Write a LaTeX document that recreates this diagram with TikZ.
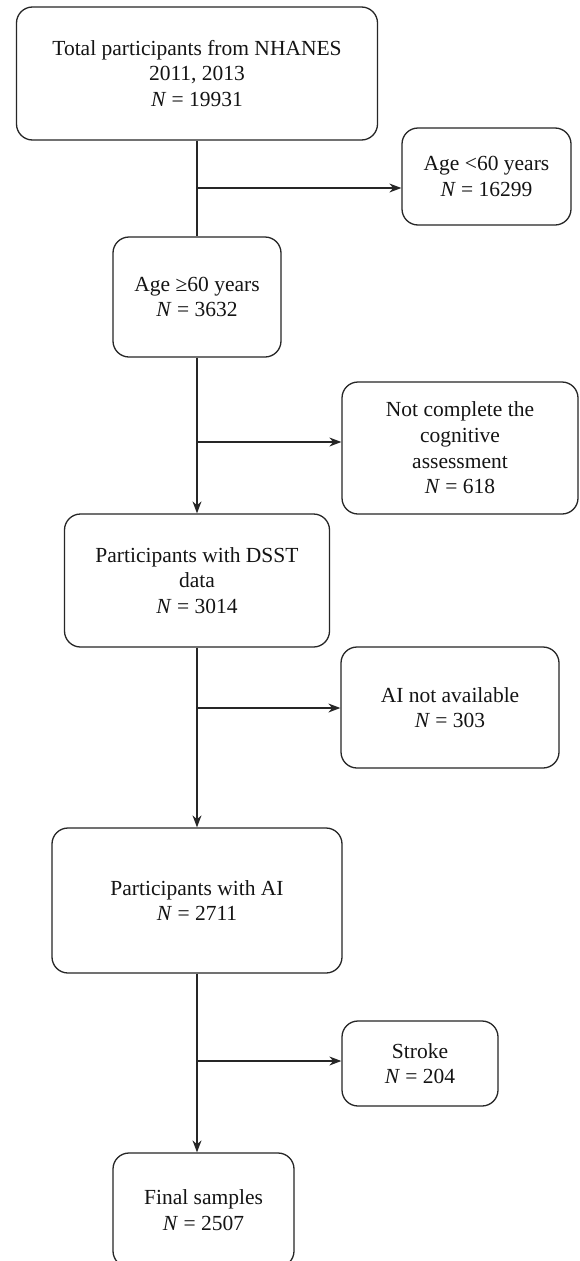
\documentclass[tikz,border=0pt]{standalone}
\usepackage{fontspec}
\setmainfont{Liberation Serif}
\usetikzlibrary{arrows.meta}
\begin{document}
\begin{tikzpicture}[x=1pt,y=-1pt,
  box/.style={draw=black!85, line width=1.3pt, rounded corners=16pt, align=center,
    inner sep=0pt, font=\fontsize{21.5}{25.7}\selectfont, text=black!92},
  conn/.style={draw=black!85, line width=1.3pt},
  arr/.style={conn, -{Stealth[length=12pt,width=9pt]}}]
\useasboundingbox (0,0) rectangle (580,1261);
\fill[white] (0,0) rectangle (580,1261);

\node[box, minimum width=361pt, minimum height=133pt] (b1) at (197,73.5)
  {Total participants from NHANES\\2011, 2013\\\textit{N} = 19931};
\node[box, minimum width=169pt, minimum height=97pt] (lt60) at (486.5,176.5)
  {Age <60 years\\\textit{N} = 16299};
\node[box, minimum width=168pt, minimum height=120pt] (b2) at (197,297)
  {Age ≥60 years\\\textit{N} = 3632};
\node[box, minimum width=236pt, minimum height=132pt] (notc) at (460,448)
  {Not complete the\\cognitive\\assessment\\\textit{N} = 618};
\node[box, minimum width=265pt, minimum height=133pt] (b3) at (197,580.5)
  {Participants with DSST\\data\\\textit{N} = 3014};
\node[box, minimum width=218pt, minimum height=121pt] (aina) at (450,707.5)
  {AI not available\\\textit{N} = 303};
\node[box, minimum width=290pt, minimum height=145pt] (b4) at (197,900.5)
  {Participants with AI\\\textit{N} = 2711};
\node[box, minimum width=156pt, minimum height=85pt] (stroke) at (420,1063.5)
  {Stroke\\\textit{N} = 204};
\node[box, minimum width=181pt, minimum height=114pt] (b5) at (203.5,1210)
  {Final samples\\\textit{N} = 2507};

\coordinate (j1) at (197,188);
\coordinate (j2) at (197,442);
\coordinate (j3) at (197,708);
\coordinate (j4) at (197,1061);

\draw[conn] (b1.south) -- (b2.north);
\draw[arr] (j1) -- (j1 -| lt60.west);
\draw[arr] (b2.south) -- (b3.north);
\draw[arr] (j2) -- (j2 -| notc.west);
\draw[arr] (b3.south) -- (b4.north);
\draw[arr] (j3) -- (j3 -| aina.west);
\draw[arr] (b4.south) -- (b4.south |- b5.north);
\draw[arr] (j4) -- (j4 -| stroke.west);
\end{tikzpicture}
\end{document}
